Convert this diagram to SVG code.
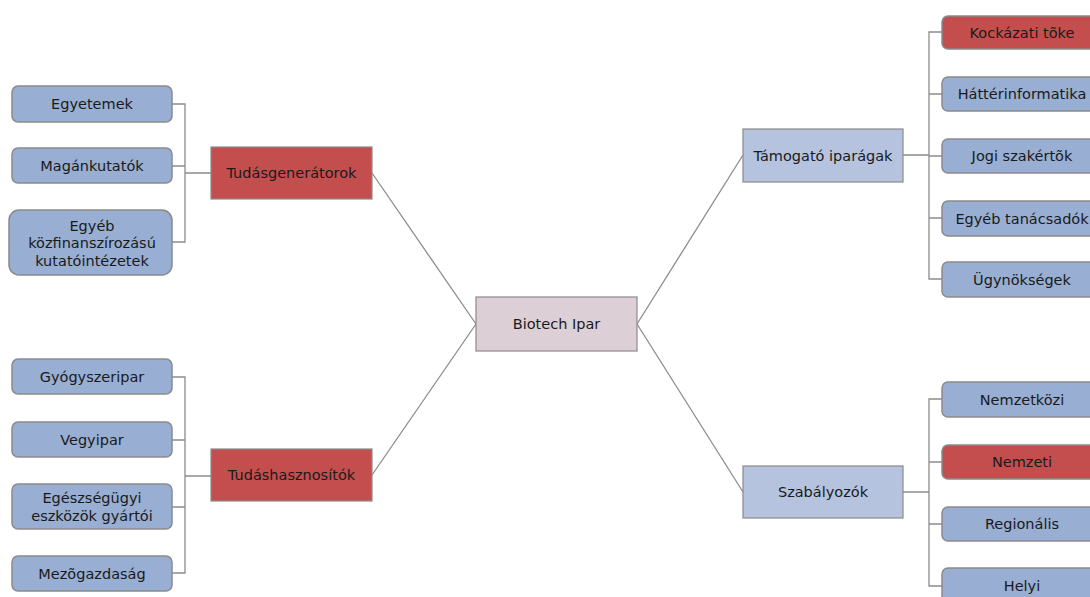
<svg xmlns="http://www.w3.org/2000/svg" width="1090" height="597" viewBox="0 0 1090 597">
<style>
text{font-family:"DejaVu Sans",Verdana,sans-serif;font-size:14.5px;fill:#1a1a1a;text-anchor:middle;dominant-baseline:central}
.leaf{fill:#98AED3;stroke:#8a8a8a;stroke-width:1.5}
.leafr{fill:#C44E4E;stroke:#8a8a8a;stroke-width:1.5}
.mid{fill:#B5C3DF;stroke:#8a8a8a;stroke-width:1.2}
.midr{fill:#C44E4E;stroke:#8a8a8a;stroke-width:1.2}
.hub{fill:#DCD0D6;stroke:#8a8a8a;stroke-width:1.2}
.c{fill:none;stroke:#8c8c8c;stroke-width:1.3}
</style>
<rect width="1090" height="597" fill="#fff"/>
<g id="connectors">
<path class="c" d="M372 173 L476 324 M372 475 L476 324 M637 324 L743 155 M637 324 L743 492"/>
<path class="c" d="M172 104 H185 V242 H172 M172 166 H185 M185 173 H211"/>
<path class="c" d="M172 377 H185 V573 H172 M172 440 H185 M172 507 H185 M185 476 H211"/>
<path class="c" d="M942 32 H929 V279 H942 M942 94 H929 M942 156 H929 M942 218 H929 M903 155 H929"/>
<path class="c" d="M942 399 H929 V586 H942 M942 462 H929 M942 524 H929 M903 492 H929"/>
</g>
<g id="hub"><rect class="hub" x="476" y="297" width="161" height="54"/><text x="556.5" y="324">Biotech Ipar</text></g>
<g id="tudasgeneratorok"><rect class="midr" x="211" y="147" width="161" height="52"/><text x="291.5" y="173">Tudásgenerátorok</text></g>
<g id="tudashasznositok"><rect class="midr" x="211" y="449" width="161" height="52"/><text x="291.5" y="475">Tudáshasznosítók</text></g>
<g id="tamogato"><rect class="mid" x="743" y="129" width="160" height="53"/><text x="823" y="155.5">Támogató iparágak</text></g>
<g id="szabalyozok"><rect class="mid" x="743" y="466" width="160" height="52"/><text x="823" y="492">Szabályozók</text></g>
<g id="egyetemek"><rect class="leaf" x="12" y="86" width="160" height="36" rx="6"/><text x="92" y="104">Egyetemek</text></g>
<g id="magankutatok"><rect class="leaf" x="12" y="148" width="160" height="35" rx="6"/><text x="92" y="165.5">Magánkutatók</text></g>
<g id="egyeb-kozfin"><rect class="leaf" x="9" y="210" width="163" height="65" rx="10"/><text x="92" y="225.5">Egyéb</text><text x="92" y="243">közfinanszírozású</text><text x="92" y="260.5">kutatóintézetek</text></g>
<g id="gyogyszeripar"><rect class="leaf" x="12" y="359" width="160" height="35" rx="6"/><text x="92" y="376.5">Gyógyszeripar</text></g>
<g id="vegyipar"><rect class="leaf" x="12" y="422" width="160" height="35" rx="6"/><text x="92" y="439.5">Vegyipar</text></g>
<g id="egeszsegugyi"><rect class="leaf" x="12" y="484" width="160" height="45" rx="6"/><text x="92" y="497.5">Egészségügyi</text><text x="92" y="515.5">eszközök gyártói</text></g>
<g id="mezogazdasag"><rect class="leaf" x="12" y="556" width="160" height="35" rx="6"/><text x="92" y="573.5">Mezõgazdaság</text></g>
<g id="kockazati"><rect class="leafr" x="942" y="16" width="160" height="33" rx="6"/><text x="1022" y="32.5">Kockázati tõke</text></g>
<g id="hatterinformatika"><rect class="leaf" x="942" y="77" width="160" height="34" rx="6"/><text x="1022" y="94">Háttérinformatika</text></g>
<g id="jogi"><rect class="leaf" x="942" y="139" width="160" height="34" rx="6"/><text x="1022" y="156">Jogi szakértõk</text></g>
<g id="egyeb-tanacsadok"><rect class="leaf" x="942" y="201" width="160" height="35" rx="6"/><text x="1022" y="218.5">Egyéb tanácsadók</text></g>
<g id="ugynoksegek"><rect class="leaf" x="942" y="262" width="160" height="35" rx="6"/><text x="1022" y="279.5">Ügynökségek</text></g>
<g id="nemzetkozi"><rect class="leaf" x="942" y="382" width="160" height="35" rx="6"/><text x="1022" y="399.5">Nemzetközi</text></g>
<g id="nemzeti"><rect class="leafr" x="942" y="445" width="160" height="34" rx="6"/><text x="1022" y="462">Nemzeti</text></g>
<g id="regionalis"><rect class="leaf" x="942" y="507" width="160" height="34" rx="6"/><text x="1022" y="524">Regionális</text></g>
<g id="helyi"><rect class="leaf" x="942" y="568" width="160" height="36" rx="6"/><text x="1022" y="586">Helyi</text></g>
</svg>
